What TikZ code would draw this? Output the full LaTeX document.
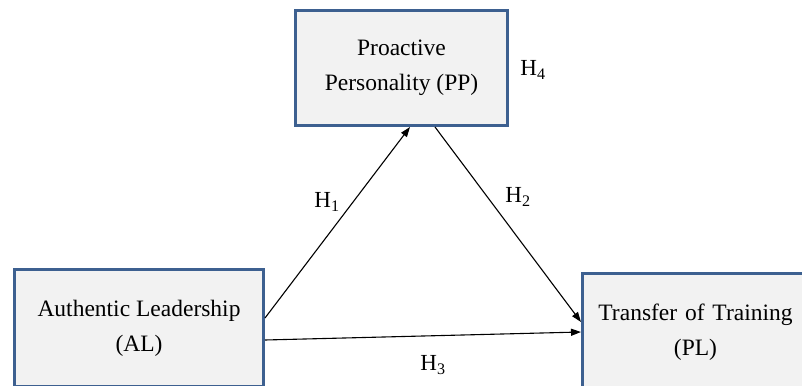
\documentclass[tikz,border=0pt]{standalone}
\usepackage{fontspec}
\setmainfont{Liberation Serif}
\usetikzlibrary{arrows.meta}
\definecolor{boxblue}{HTML}{3D6090}
\definecolor{boxfill}{HTML}{F2F2F2}
\tikzset{
  varbox/.style={draw=boxblue, line width=3pt, fill=boxfill, align=center, inner sep=0pt,
    font=\fontsize{23.5}{35}\selectfont},
  hlabel/.style={font=\fontsize{23}{28}\selectfont, inner sep=0pt},
  conn/.style={line width=1.1pt, -{Triangle[length=10pt,width=7pt]}}
}
\begin{document}
\begin{tikzpicture}[x=1pt,y=-1pt]
\useasboundingbox (0,0) rectangle (802,385);
\node[varbox, minimum width=212pt, minimum height=115pt] (PP) at (401.5,68) {Proactive\\Personality (PP)};
\node[varbox, minimum width=249pt, minimum height=117pt] (AL) at (139,328) {Authentic Leadership\\(AL)};
\node[varbox, minimum width=230pt, minimum height=117pt, text width=230pt] (PL) at (697.5,332) {\hspace*{-4pt}Transfer of Training\\\hspace*{-4pt}(PL)};
\draw[conn] ([yshift=10pt]AL.east) -- ([xshift=8.5pt]PP.south);
\draw[conn] ([xshift=33.5pt]PP.south) -- ([yshift=10pt]PL.west);
\draw[conn] ([yshift=-12pt]AL.east) -- (PL.west);
\node[hlabel] (h4) at (533,70) {H\textsubscript{4}};
\node[hlabel] (h1) at (327,202) {H\textsubscript{1}};
\node[hlabel] (h2) at (518,197) {H\textsubscript{2}};
\node[hlabel] (h3) at (433,365) {H\textsubscript{3}};
\end{tikzpicture}
\end{document}
